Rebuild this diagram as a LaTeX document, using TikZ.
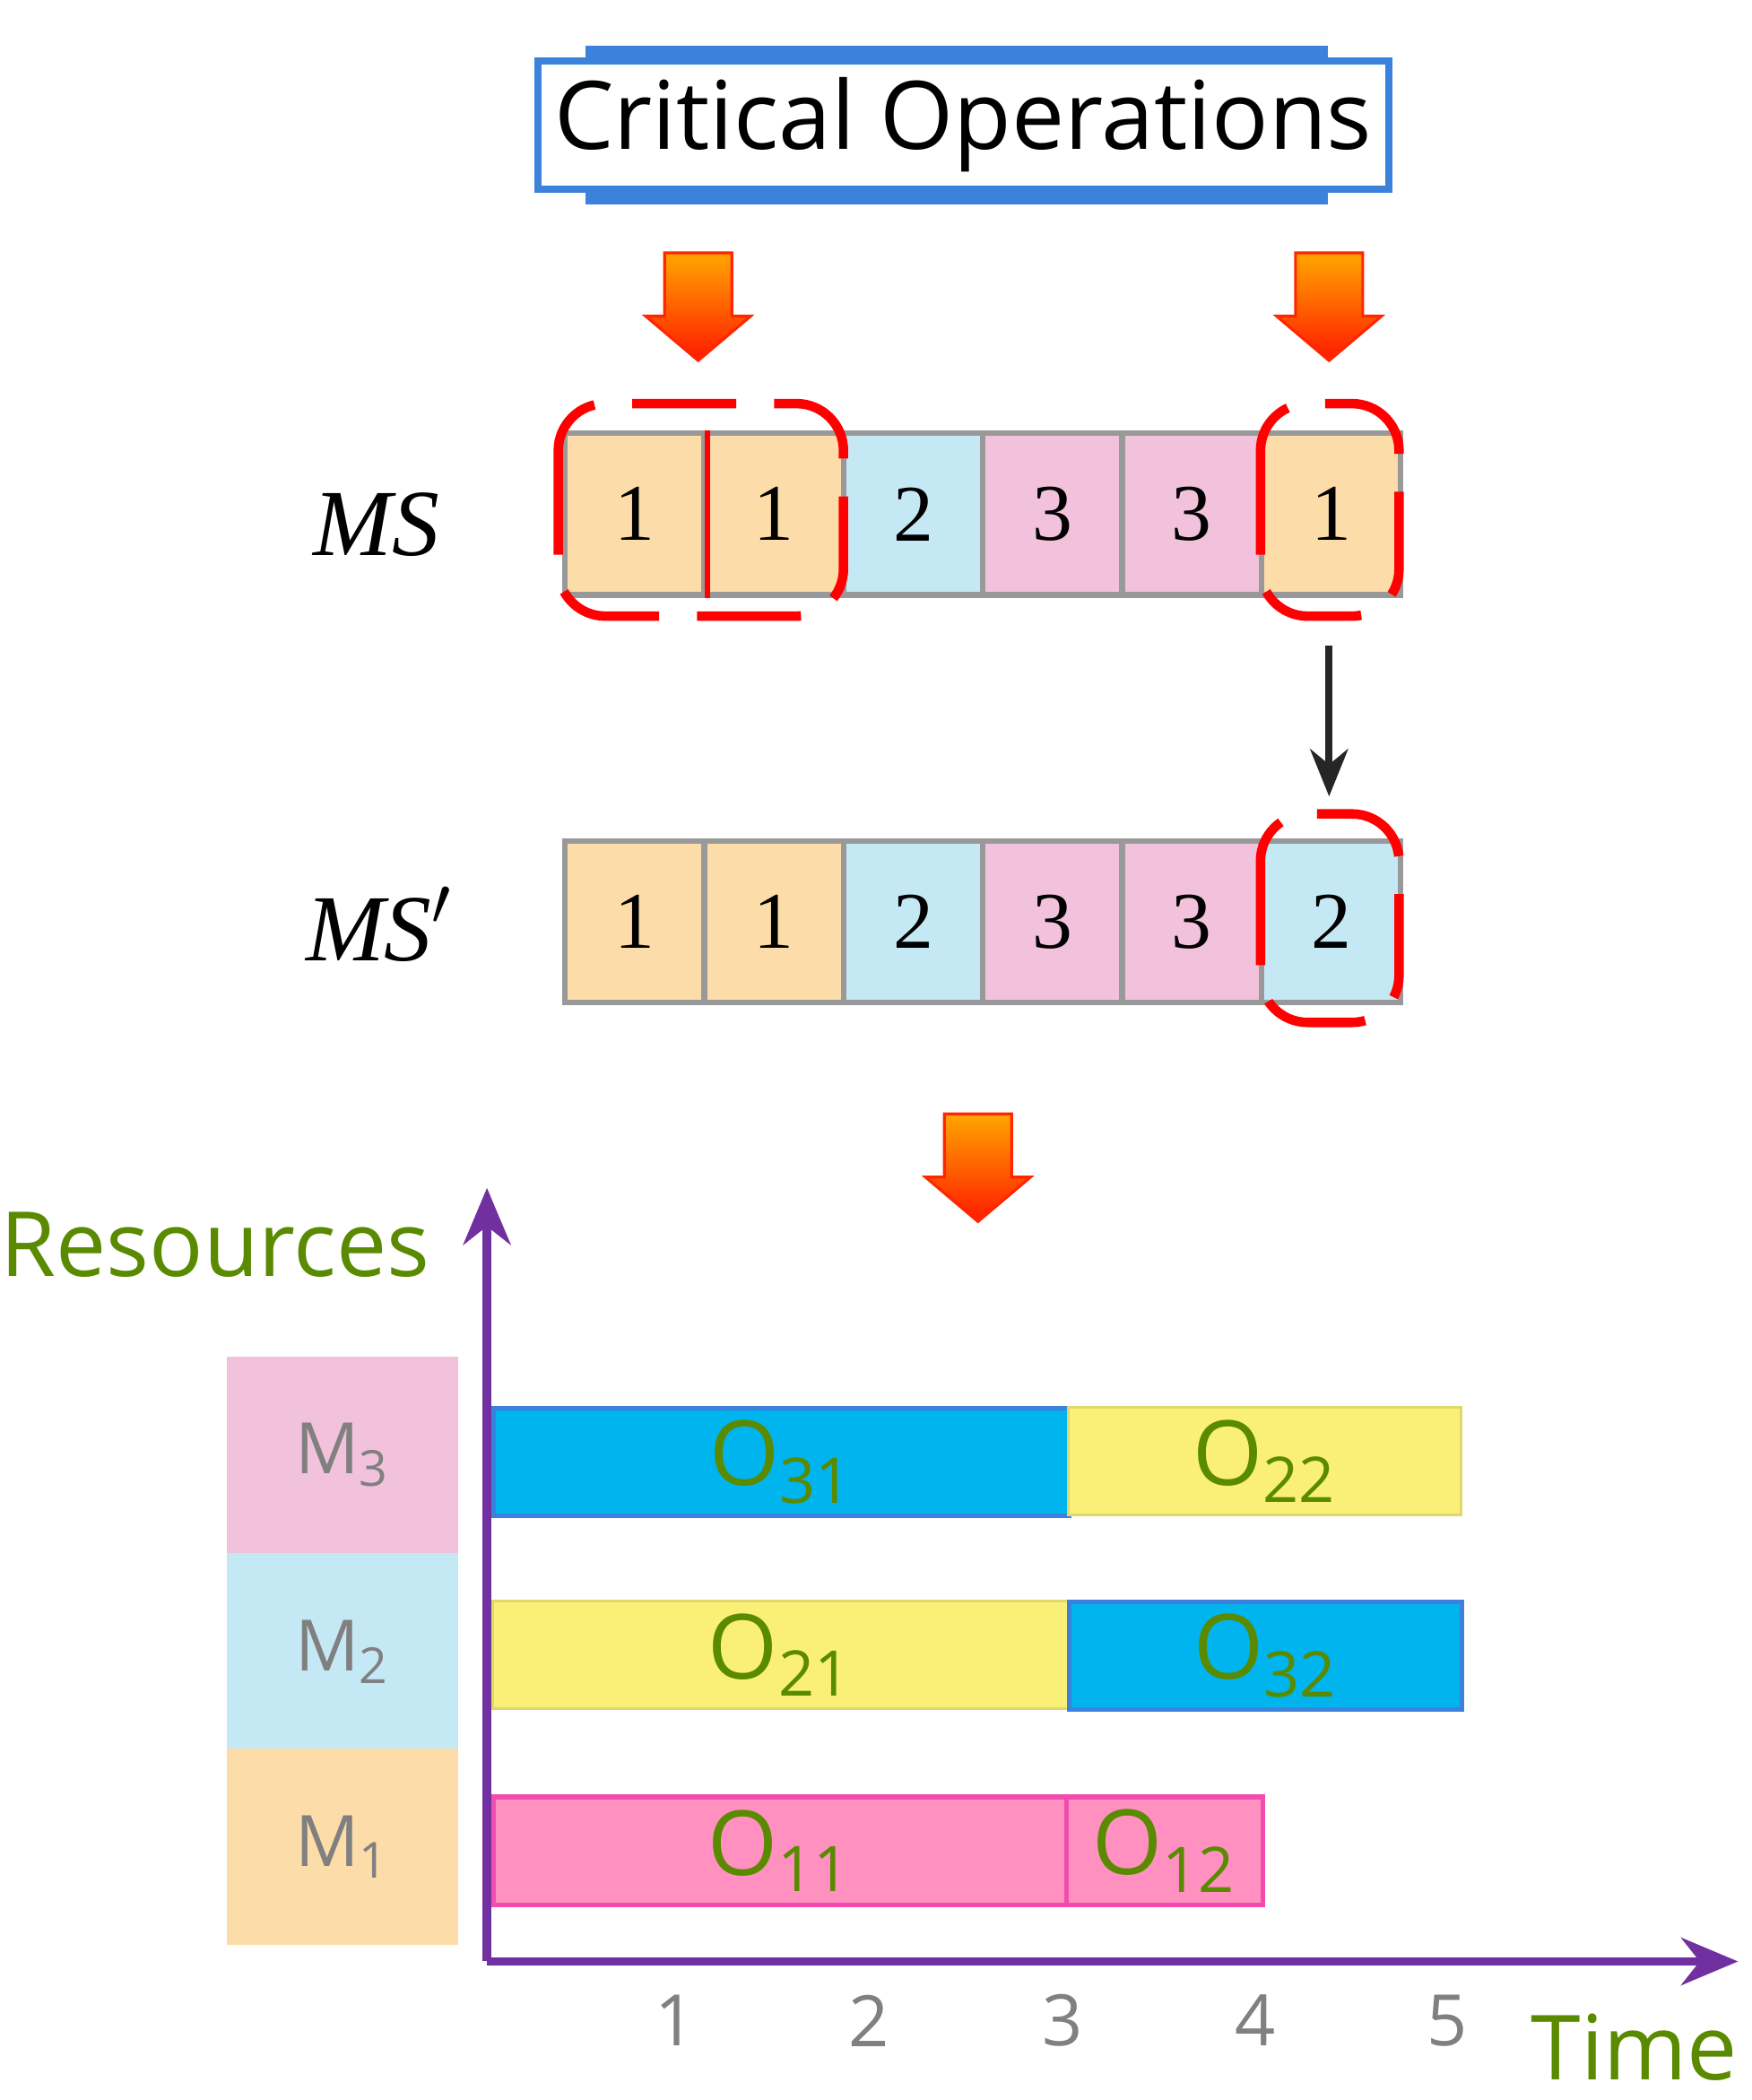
\documentclass[tikz,border=0pt]{standalone}
\usepackage{fontspec}
\setmainfont{Liberation Serif}
\newfontfamily\osans{Open Sans}
\usetikzlibrary{arrows.meta}
\definecolor{cor}{HTML}{FCDCA8}
\definecolor{cbl}{HTML}{C5E8F5}
\definecolor{cpk}{HTML}{F2C2DC}
\definecolor{ccy}{HTML}{00B4EE}
\definecolor{cye}{HTML}{FAF077}
\definecolor{cmg}{HTML}{FF90C0}
\definecolor{cgr}{HTML}{5A8A00}
\definecolor{cpu}{HTML}{7030A0}
\definecolor{cbx}{HTML}{3C82DC}
\begin{document}
\begin{tikzpicture}[x=0.01cm,y=-0.01cm,
 cell/.style={draw=gray!80,line width=1.2pt,minimum width=1.035cm,minimum height=1.2cm,anchor=north west,font=\fontsize{17}{17}\selectfont,inner sep=0pt},
 sel/.style={draw=red,line width=2pt,dash pattern=on 22pt off 8pt,rounded corners=0.35cm},
 bar/.style={anchor=north west,inner sep=0pt,minimum height=0.8cm,font=\osans\fontsize{19}{19}\selectfont,text=cgr},
 res/.style={anchor=north west,inner sep=0pt,minimum width=1.72cm,minimum height=1.46cm,font=\osans\fontsize{15}{15}\selectfont,text=gray},
 tick/.style={font=\osans\fontsize{15}{15}\selectfont,text=gray}]
\useasboundingbox (0,0) rectangle (1302,1561);
\newcommand{\bigarrow}[3]{% x, ytop, ybot
 \shade[top color=orange!70!yellow,bottom color=red!80!orange,draw=red!70!orange,line width=0.6pt]
 (#1-25,#2) -- (#1+25,#2) -- (#1+25,#2+47) -- (#1+39,#2+47) -- (#1,#3) -- (#1-39,#2+47) -- (#1-25,#2+47) -- cycle;}
% title
\node[draw=cbx,line width=1.5pt,minimum width=6.32cm,minimum height=0.95cm,font=\osans\fontsize{20}{20}\selectfont] (title) at (716,93) {Critical Operations};
\draw[cbx,line width=4pt] (435,41) -- (987,41) (435,145) -- (987,145);
\bigarrow{519}{188}{268}
\bigarrow{988}{188}{268}
% MS
\node[font=\itshape\fontsize{20}{20}\selectfont] (ms) at (280,390) {MS};
\foreach \i/\n/\c in {0/1/cor,1/1/cor,2/2/cbl,3/3/cpk,4/3/cpk,5/1/cor}
 \node[cell,fill=\c] (a\i) at (418+\i*103.5,320) {\n};
\draw[red,line width=1.2pt] (a0.north east) -- (a0.south east);
\draw[sel] (415,300) rectangle (627,458);
\draw[sel] (937,300) rectangle (1040,458);
\coordinate (as) at (988,480);
\coordinate (ae) at (988,592);
\draw[-{Stealth[length=10pt,width=8pt]},line width=1.5pt,black!85] (as) -- (ae);
% MS'
\node[font=\itshape\fontsize{20}{20}\selectfont] (ms2) at (282,687) {MS$'$};
\foreach \i/\n/\c in {0/1/cor,1/1/cor,2/2/cbl,3/3/cpk,4/3/cpk,5/2/cbl}
 \node[cell,fill=\c] (b\i) at (418+\i*103.5,623) {\n};
\draw[sel] (937,605) rectangle (1040,760);
\bigarrow{727}{828}{908}
% chart
\node[font=\osans\fontsize{19}{19}\selectfont,text=cgr] (resl) at (160,925) {Resources};
\node[res,fill=cpk] (m3) at (168,1008) {M\textsubscript{3}};
\node[res,fill=cbl] (m2) at (168,1154) {M\textsubscript{2}};
\node[res,fill=cor] (m1) at (168,1299) {M\textsubscript{1}};
\node[bar,fill=ccy,draw=cbx,line width=1pt,minimum width=4.28cm] (o31) at (365,1045) {O\textsubscript{31}};
\node[bar,fill=cye,draw=cye!90!black,line width=0.6pt,minimum width=2.92cm] (o22) at (793,1045) {O\textsubscript{22}};
\node[bar,fill=cye,draw=cye!90!black,line width=0.6pt,minimum width=4.28cm] (o21) at (365,1189) {O\textsubscript{21}};
\node[bar,fill=ccy,draw=cbx,line width=1pt,minimum width=2.92cm] (o32) at (793,1189) {O\textsubscript{32}};
\node[bar,fill=cmg,draw=magenta!70,line width=1pt,minimum width=4.26cm] (o11) at (365,1334) {O\textsubscript{11}};
\node[bar,fill=cmg,draw=magenta!70,line width=1pt,minimum width=1.46cm] (o12) at (791,1334) {O\textsubscript{12}};
\coordinate (org) at (362,1458);
\coordinate (ytop) at (362,883);
\coordinate (xend) at (1292,1458);
\draw[cpu,line width=1.8pt,-{Stealth[length=12pt,width=10pt]}] (org) -- (ytop);
\draw[cpu,line width=1.8pt,-{Stealth[length=12pt,width=10pt]}] (org) -- (xend);
\foreach \k/\x in {1/502,2/646,3/790,4/933,5/1076}
 \node[tick] (t\k) at (\x,1502) {\k};
\node[font=\osans\fontsize{19}{19}\selectfont,text=cgr] (time) at (1215,1522) {Time};
\end{tikzpicture}
\end{document}
